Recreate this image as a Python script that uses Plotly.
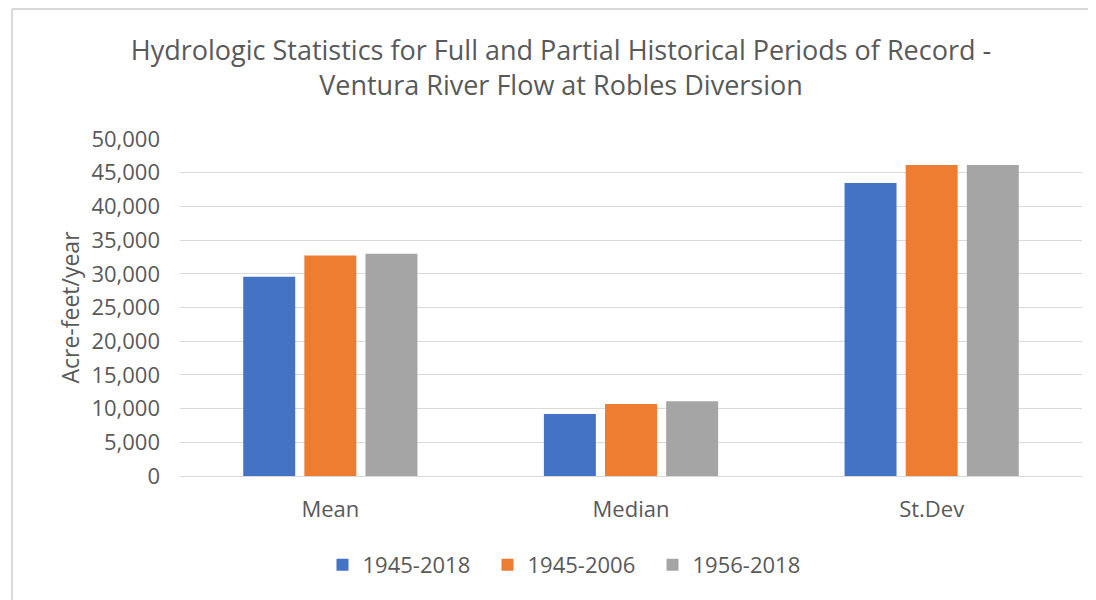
import plotly.graph_objects as go

categories = ["Mean", "Median", "St.Dev"]
series_names = ["1945-2018", "1945-2006", "1956-2018"]
values_1945_2018 = [29550, 9210, 43460]
values_1945_2006 = [32730, 10700, 46130]
values_1956_2018 = [32970, 11080, 46130]
colors = ["#4472C4", "#ED7D31", "#A5A5A5"]
y_ticks = list(range(0, 50001, 5000))

font_color = "#595959"
font_family = "'Open Sans', Lato, sans-serif"

# page body adds an 8px offset, so layout pixels = screen pixels - 8
OFF = 8
W, H = 1096, 600
L, R, T, B = 180 - OFF, 22, 139 - OFF, 132
pw, ph = W - L - R, H - T - B


def px_x(x):
    # screen x -> paper x
    return (x - OFF - L) / pw


def px_y(y):
    # screen y -> paper y
    return (H - B - (y - OFF)) / ph


fig = go.Figure()
for name, vals, col in zip(series_names,
                           [values_1945_2018, values_1945_2006, values_1956_2018],
                           colors):
    fig.add_trace(go.Bar(x=categories, y=vals, name=name, marker_color=col,
                         marker_line_width=0))

fig.update_layout(
    width=W,
    height=H,
    paper_bgcolor="white",
    plot_bgcolor="white",
    font=dict(family=font_family, color=font_color),
    title=dict(
        text="Hydrologic Statistics for Full and Partial Historical Periods of Record -"
             "<br>Ventura River Flow at Robles Diversion",
        x=(561 - OFF) / W, xanchor="center", y=1 - (60 - OFF) / H, yanchor="middle",
        font=dict(size=27, color=font_color),
    ),
    margin=dict(l=L, r=R, t=T, b=B),
    barmode="group",
    bargap=0.39,
    bargroupgap=0.15,
    showlegend=True,
    legend=dict(orientation="h", x=px_x(570), xanchor="center", y=px_y(565),
                yanchor="middle", font=dict(size=22, color=font_color),
                traceorder="normal", itemwidth=30,
                entrywidth=120, entrywidthmode="pixels"),
    xaxis=dict(showline=True, linecolor="#d9d9d9", linewidth=1, automargin=False,
               tickfont=dict(size=22, color=font_color), ticks="",
               ticklabelstandoff=14),
    yaxis=dict(range=[0, 50000], tickvals=y_ticks, tickformat=",", automargin=False,
               showgrid=True, gridcolor="#d9d9d9", zeroline=False,
               tickfont=dict(size=22, color=font_color), ticks="",
               ticklabelstandoff=19,
               title=dict(text="Acre-feet/year", font=dict(size=23, color=font_color),
                          standoff=5)),
)

# chart frame (top and left edges visible in the original crop)
fig.add_shape(type="line", xref="paper", yref="paper", x0=px_x(12), y0=px_y(9),
              x1=px_x(W + OFF), y1=px_y(9), line=dict(color="#d9d9d9", width=2))
fig.add_shape(type="line", xref="paper", yref="paper", x0=px_x(12), y0=px_y(9),
              x1=px_x(12), y1=px_y(H + OFF), line=dict(color="#d9d9d9", width=2))

fig.write_html("out.html")
